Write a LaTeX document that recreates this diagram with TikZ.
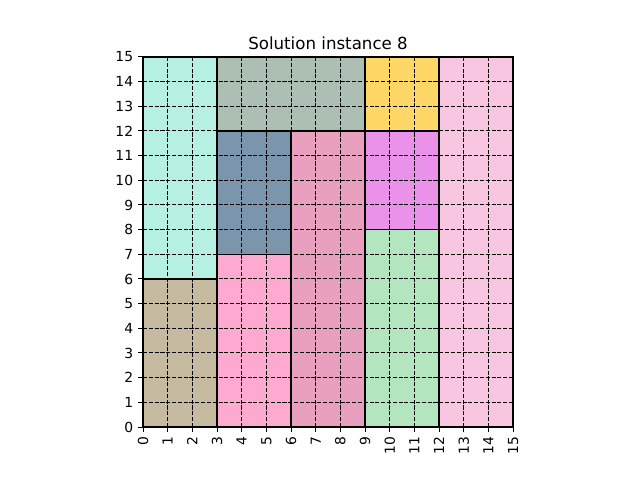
\documentclass[tikz,border=0pt]{standalone}
\usepackage{fontspec}
\setmainfont{DejaVu Sans}
\definecolor{tanbox}{HTML}{C6BBA0}
\definecolor{mintbox}{HTML}{B6F0E2}
\definecolor{pinkbox}{HTML}{FDA9D0}
\definecolor{steelbox}{HTML}{7B96AC}
\definecolor{sagebox}{HTML}{ACBFB2}
\definecolor{mauvebox}{HTML}{E8A0BE}
\definecolor{greenbox}{HTML}{B3E5BE}
\definecolor{violetbox}{HTML}{EA91EA}
\definecolor{yellowbox}{HTML}{FFD766}
\definecolor{rosebox}{HTML}{F8C6E0}
\tikzset{
  piece/.style={line width=1.7pt, draw=black},
  gridline/.style={line width=1.1pt, dash pattern=on 4.7pt off 2pt},
  ticklabel/.style={font=\fontsize{16}{19}\selectfont, inner sep=0pt},
}
\begin{document}
\begin{tikzpicture}
    \useasboundingbox (-5.797,-2.148) rectangle (20.146,17.308);

    % Pieces
    \foreach \xa/\ya/\xb/\yb/\col in {0/0/3/6/tanbox, 0/6/3/15/mintbox,
        3/0/6/7/pinkbox, 3/7/6/12/steelbox, 3/12/9/15/sagebox,
        6/0/9/12/mauvebox, 9/0/12/8/greenbox, 9/8/12/12/violetbox,
        9/12/12/15/yellowbox, 12/0/15/15/rosebox}
        \draw[piece, fill=\col] (\xa,\ya) rectangle (\xb,\yb);

    % Grid
    \foreach \i in {1,...,14} {
        \draw[gridline] (\i,0) -- (\i,15);
        \draw[gridline] (0,\i) -- (15,\i);
    }

    % Axes
    \draw[line width=1.3pt] (0,15) -- (0,0) -- (15,0);

    % Tick labels
    \foreach \x in {0,...,15} {
        \draw[line width=1.1pt] (\x,0) -- (\x,-5.6pt);
        \node[ticklabel, rotate=90, anchor=east] at (\x,-11.2pt) {\x};
    }
    \foreach \y in {0,...,15} {
        \draw[line width=1.1pt] (0,\y) -- (-5.6pt,\y);
        \node[ticklabel, anchor=east] at (-11.2pt,\y) {\y};
    }

    % Title
    \node[font=\fontsize{19.2}{23}\selectfont] at (7.5,15.57) {Solution instance 8};
\end{tikzpicture}
\end{document}
